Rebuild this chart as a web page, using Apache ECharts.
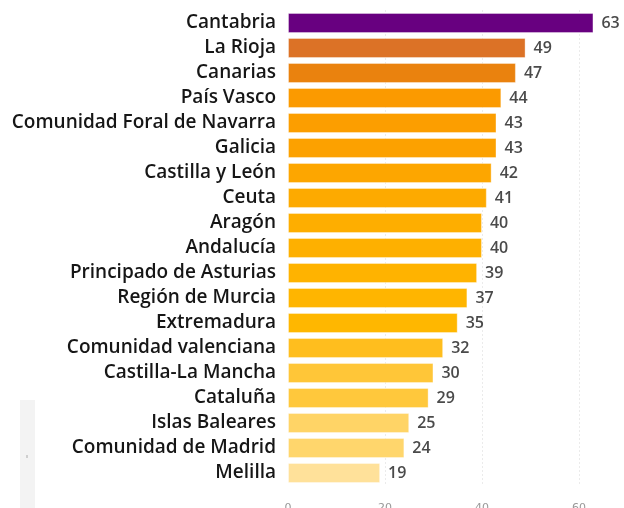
<!DOCTYPE html>
<html>
<head>
<meta charset="utf-8">
<script src="https://cdn.jsdelivr.net/npm/echarts@6/dist/echarts.min.js"></script>
<style>
  html, body { margin: 0; padding: 0; background: #fff; }
  #chart { width: 624px; height: 508px; }
</style>
</head>
<body>
<div id="chart"></div>
<script>
// comunidades, de mayor a menor
const regions = [
  'Cantabria', 'La Rioja', 'Canarias', 'País Vasco', 'Comunidad Foral de Navarra',
  'Galicia', 'Castilla y León', 'Ceuta', 'Aragón', 'Andalucía',
  'Principado de Asturias', 'Región de Murcia', 'Extremadura', 'Comunidad valenciana',
  'Castilla-La Mancha', 'Cataluña', 'Islas Baleares', 'Comunidad de Madrid', 'Melilla'
];
const values = [63, 49, 47, 44, 43, 43, 42, 41, 40, 40, 39, 37, 35, 32, 30, 29, 25, 24, 19];
const barColors = [
  '#680080', '#dc7226', '#ea820e', '#fb9a00', '#fc9e00',
  '#fca100', '#fda600', '#fdaa00', '#feae00', '#feb000',
  '#ffb300', '#ffb500', '#ffb700', '#ffbe1e', '#ffc638',
  '#ffc83c', '#ffd466', '#ffd66c', '#ffe19a'
];
const xTicks = [0, 20, 40, 60];

const chart = echarts.init(document.getElementById('chart'));

const option = {
  animation: false,
  backgroundColor: '#fff',
  grid: { left: 288, right: 16, top: 10.5, bottom: 22.5, containLabel: false, outerBoundsMode: 'none' },
  graphic: [
    // franja gris de la captura original
    { type: 'rect', left: 20, top: 400, shape: { width: 15, height: 108 }, style: { fill: '#f3f3f3' }, silent: true },
    { type: 'rect', left: 26, top: 455, shape: { width: 2, height: 3 }, style: { fill: '#cfcfcf' }, silent: true }
  ],
  xAxis: {
    type: 'value',
    min: 0,
    max: 66,
    interval: 20,
    axisLine: { show: false },
    axisTick: { show: false },
    axisLabel: {
      color: '#999', fontSize: 11, margin: 17, showMaxLabel: false,
      fontFamily: 'DejaVu Sans',
      formatter: v => (xTicks.includes(v) ? String(v) : '')
    },
    splitLine: { show: true, showMinLine: false, showMaxLine: false, lineStyle: { color: '#d6d6d6', type: [1, 3], width: 1 } }
  },
  yAxis: {
    type: 'category',
    data: regions,
    inverse: true,
    axisLine: { show: false },
    axisTick: { show: false },
    axisLabel: {
      color: '#161616', fontSize: 19, fontWeight: 600, margin: 12,
      fontFamily: 'Open Sans'
    }
  },
  series: [{
    type: 'bar',
    barWidth: 20,
    data: values.map((v, i) => ({
      value: v,
      itemStyle: { color: barColors[i], borderColor: 'rgba(255,255,255,0.35)', borderWidth: 1 }
    })),
    label: {
      show: true, position: 'right', distance: 8,
      color: '#4a4a4a', fontSize: 16, fontWeight: 600, fontFamily: 'Open Sans'
    }
  }]
};

chart.setOption(option);
</script>
</body>
</html>
